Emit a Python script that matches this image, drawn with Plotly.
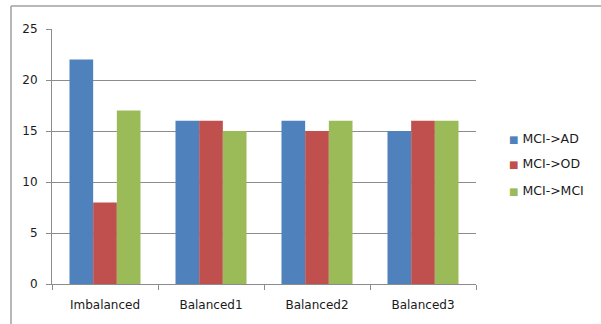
import plotly.graph_objects as go

categories = ["Imbalanced", "Balanced1", "Balanced2", "Balanced3"]
series_names = ["MCI->AD", "MCI->OD", "MCI->MCI"]
mci_ad = [22, 16, 16, 15]
mci_od = [8, 16, 15, 16]
mci_mci = [17, 15, 16, 16]
colors = ["#4F81BD", "#C0504D", "#9BBB59"]
y_ticks = [0, 5, 10, 15, 20, 25]

W, H = 601, 324
L, R, T, B = 52, 125, 29, 40
pw = W - L - R
ph = H - T - B

fig = go.Figure()
for name, vals, c in zip(series_names, [mci_ad, mci_od, mci_mci], colors):
    fig.add_trace(go.Bar(x=categories, y=vals, name=name, marker=dict(color=c, line=dict(width=0))))

font = "DejaVu Sans"
txt = "#1a1a1a"
fig.update_layout(
    width=W, height=H,
    margin=dict(l=L, r=R, t=T, b=B, pad=0),
    paper_bgcolor="white", plot_bgcolor="white",
    barmode="group", bargap=0.33, bargroupgap=0,
    font=dict(family=font, size=12, color=txt),
    showlegend=False,
    xaxis=dict(showline=True, linecolor="#8C8C8C", linewidth=1,
               ticks="outside", ticklen=5, tickcolor="#8C8C8C",
               tickson="boundaries", showgrid=False, ticklabelstandoff=10,
               tickfont=dict(family=font, size=12, color=txt)),
    yaxis=dict(range=[0, 25], tickvals=y_ticks, showline=True, linecolor="#8C8C8C", linewidth=1,
               ticks="outside", ticklen=5, tickcolor="#8C8C8C", ticklabelstandoff=6,
               showgrid=True, gridcolor="#8C8C8C", gridwidth=1, zeroline=False,
               tickfont=dict(family=font, size=12, color=txt)),
)

# legend as annotations
legend_y = [138, 163, 190]
for name, c, yy in zip(series_names, colors, legend_y):
    fig.add_annotation(xref="paper", yref="paper",
                       x=(507 - L) / pw, y=1 - (yy - T) / ph,
                       xanchor="left", yanchor="middle", showarrow=False,
                       text=f'<span style="color:{c};font-size:10px">■</span> {name}',
                       font=dict(family=font, size=12.5, color=txt))

# outer chart border (only top and left edges are visible in the frame)
bx0 = (11 - L) / pw
by1 = 1 + (T - 6) / ph
fig.add_shape(type="line", xref="paper", yref="paper", x0=bx0, x1=(W - L) / pw, y0=by1, y1=by1,
              line=dict(color="#A0A0A0", width=1.5), layer="below")
fig.add_shape(type="line", xref="paper", yref="paper", x0=bx0, x1=bx0, y0=by1, y1=-(H - T - ph) / ph,
              line=dict(color="#A0A0A0", width=1.5), layer="below")

fig.write_html("out.html")
